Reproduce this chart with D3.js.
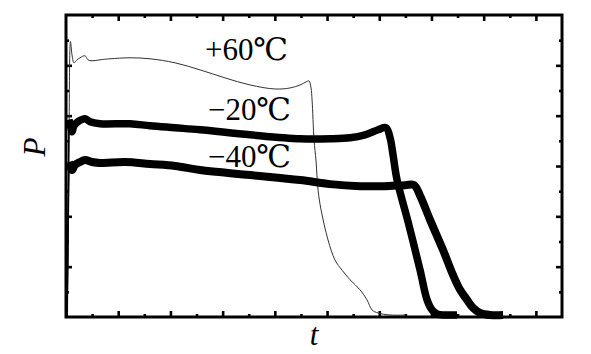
<!DOCTYPE html>
<html>
<head>
<meta charset="utf-8">
<script src="https://cdn.jsdelivr.net/npm/d3@7"></script>
<style>
  body { margin: 0; background: #fff; }
</style>
</head>
<body>
<div id="chart"></div>
<script>
// curve data (t in axis units, P in axis units)
const t60 = [0.029, 0.057, 0.086, 0.115, 0.153, 0.211, 0.268, 0.364, 0.421, 0.498, 0.651, 0.843, 1.226, 1.609, 2.088, 2.567, 3.046, 3.525, 4.004, 4.291, 4.483, 4.598, 4.655, 4.693, 4.713, 4.751, 4.789, 4.828, 4.885, 5.019, 5.153, 5.287, 5.441, 5.632, 5.766, 5.862, 5.977, 6.207, 6.533];
const p60 = [0, 3.32, 5.47, 5.21, 5.05, 5.11, 5.15, 5.19, 5.11, 5.09, 5.11, 5.13, 5.15, 5.13, 5.05, 4.91, 4.75, 4.61, 4.53, 4.55, 4.61, 4.67, 4.69, 4.55, 4.31, 3.52, 3.10, 2.52, 2.13, 1.53, 1.13, 0.93, 0.74, 0.54, 0.34, 0.14, 0.08, 0.04, 0.04];

const t20 = [0.019, 0.057, 0.096, 0.115, 0.153, 0.230, 0.364, 0.460, 0.651, 1.226, 1.609, 2.088, 2.567, 3.525, 4.483, 5.057, 5.441, 5.728, 5.977, 6.130, 6.207, 6.264, 6.341, 6.552, 6.782, 6.916, 7.011, 7.107, 7.261, 7.490];
const p20 = [0, 3.92, 3.76, 3.68, 3.80, 3.88, 3.94, 3.88, 3.84, 3.84, 3.80, 3.76, 3.72, 3.62, 3.54, 3.54, 3.56, 3.62, 3.72, 3.76, 3.56, 3.22, 2.72, 1.89, 0.93, 0.34, 0.14, 0.06, 0.04, 0.04];

const t40 = [0.019, 0.057, 0.096, 0.115, 0.172, 0.268, 0.364, 0.498, 0.651, 1.130, 1.609, 2.088, 2.567, 3.525, 4.483, 5.057, 5.632, 6.111, 6.494, 6.667, 6.782, 6.973, 7.222, 7.414, 7.548, 7.682, 7.797, 7.931, 8.123, 8.372];
const p40 = [0, 3.08, 2.96, 2.92, 3.02, 3.08, 3.12, 3.08, 3.06, 3.08, 3.04, 3.00, 2.92, 2.82, 2.72, 2.64, 2.60, 2.60, 2.62, 2.62, 2.41, 1.93, 1.33, 0.83, 0.54, 0.34, 0.18, 0.08, 0.04, 0.04];

const curveLabels = ["+60℃", "−20℃", "−40℃"];

const W = 591, H = 354;
const margin = {left: 66, top: 15, right: 29, bottom: 37};

const svg = d3.select("#chart").append("svg")
    .attr("width", W)
    .attr("height", H);

const x = d3.scaleLinear().domain([0, 9.5]).range([margin.left, W - margin.right]);
const y = d3.scaleLinear().domain([0, 6]).range([H - margin.bottom, margin.top]);

const majorX = d3.range(1, 10);
const minorX = d3.range(0.5, 9.5, 1);
const majorY = d3.range(1, 6);
const minorY = d3.range(0.5, 6, 1);

// ticks pointing inward on all four sides
function addAxis(axisFn, scale, vals, size, tx, ty) {
  const g = svg.append("g")
      .attr("transform", `translate(${tx},${ty})`)
      .call(axisFn(scale).tickValues(vals).tickSize(-size).tickFormat(""));
  g.select(".domain").remove();
  g.selectAll("line").attr("stroke", "#000").attr("stroke-width", 2.6);
}
const x0 = x.range()[0], x1 = x.range()[1];
const y0 = y.range()[0], y1 = y.range()[1];
addAxis(d3.axisBottom, x, majorX, 6, 0, y0);
addAxis(d3.axisBottom, x, minorX, 3, 0, y0);
addAxis(d3.axisTop, x, majorX, 6, 0, y1);
addAxis(d3.axisTop, x, minorX, 3, 0, y1);
addAxis(d3.axisLeft, y, majorY, 6, x0, 0);
addAxis(d3.axisLeft, y, minorY, 3, x0, 0);
addAxis(d3.axisRight, y, majorY, 6, x1, 0);
addAxis(d3.axisRight, y, minorY, 3, x1, 0);

const line = d3.line()
    .x(d => x(d[0]))
    .y(d => y(d[1]))
    .curve(d3.curveCatmullRom.alpha(0.5));

const zip = (a, b) => a.map((v, i) => [v, b[i]]);

// thin +60 curve
svg.append("path")
    .attr("d", line(zip(t60, p60)))
    .attr("fill", "none")
    .attr("stroke", "#333")
    .attr("stroke-width", 1);

// thick curves: the initial rise is drawn thin, the rest thick
[[t20, p20, 7.5], [t40, p40, 8]].forEach(([tt, pp, w]) => {
  const pts = zip(tt, pp);
  svg.append("path")
      .attr("d", d3.line().x(d => x(d[0])).y(d => y(d[1]))(pts.slice(0, 2)))
      .attr("fill", "none")
      .attr("stroke", "#000")
      .attr("stroke-width", 1.5);
  svg.append("path")
      .attr("d", line(pts.slice(1)))
      .attr("fill", "none")
      .attr("stroke", "#000")
      .attr("stroke-width", w)
      .attr("stroke-linejoin", "round");
});

// frame
svg.append("rect")
    .attr("x", x0).attr("y", y1)
    .attr("width", x1 - x0).attr("height", y0 - y1)
    .attr("fill", "none")
    .attr("stroke", "#000")
    .attr("stroke-width", 3);

// curve labels
const labelPos = [[205, 60], [208, 120], [208, 167]];
svg.selectAll(".clabel")
  .data(curveLabels)
  .join("text")
    .attr("class", "clabel")
    .attr("x", (d, i) => labelPos[i][0])
    .attr("y", (d, i) => labelPos[i][1])
    .text(d => d)
    .style("font-family", "'Liberation Serif', 'DejaVu Serif', serif")
    .style("font-size", "31px");

// axis titles
svg.append("text")
    .attr("transform", "translate(45,147) rotate(-90)")
    .attr("text-anchor", "middle")
    .text("P")
    .style("font-family", "'Liberation Serif', serif")
    .style("font-style", "italic")
    .style("font-size", "31px");

svg.append("text")
    .attr("x", 314)
    .attr("y", 345)
    .attr("text-anchor", "middle")
    .text("t")
    .style("font-family", "'Liberation Serif', serif")
    .style("font-style", "italic")
    .style("font-size", "31px");
</script>
</body>
</html>
